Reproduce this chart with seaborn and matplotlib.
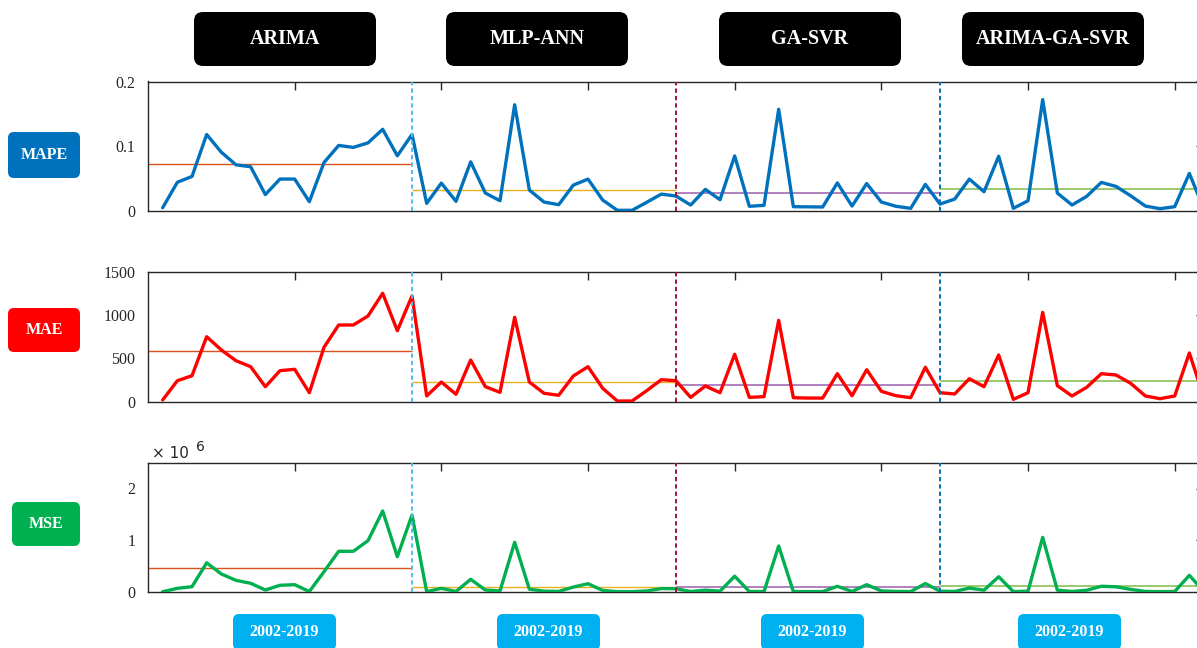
import numpy as np
import pandas as pd
import matplotlib
matplotlib.use("Agg")
import matplotlib.pyplot as plt
from matplotlib.patches import FancyBboxPatch
import seaborn as sns

# Yearly error metrics, 2002-2019, for four models laid end to end
models = ["ARIMA", "MLP-ANN", "GA-SVR", "ARIMA-GA-SVR"]
period_label = "2002-2019"
years_per_model = 18

mape_arima = [0.0046, 0.044, 0.053, 0.118, 0.0905, 0.071, 0.068, 0.025, 0.049,
              0.049, 0.014, 0.0746, 0.101, 0.098, 0.105, 0.126, 0.085, 0.118]
mape_mlp = [0.0114, 0.0427, 0.0145, 0.0756, 0.0273, 0.0154, 0.164, 0.032, 0.0134,
            0.0093, 0.0396, 0.0489, 0.0165, 0.0006, 0.0006, 0.013, 0.0257, 0.0227]
mape_gasvr = [0.0088, 0.033, 0.017, 0.0848, 0.0068, 0.0083, 0.157, 0.0062, 0.006,
              0.0057, 0.043, 0.0072, 0.042, 0.0134, 0.0068, 0.0037, 0.0407, 0.0103]
mape_hybrid = [0.018, 0.0489, 0.0293, 0.0843, 0.0037, 0.0154, 0.172, 0.0273, 0.0088,
               0.0222, 0.0438, 0.0376, 0.0231, 0.0072, 0.0031, 0.0062, 0.0577, 0.002]

mae_arima = [20, 242, 300, 750, 597, 473, 404, 173, 358,
             374, 104, 628, 885, 885, 989, 1251, 819, 1220]
mae_mlp = [66, 227, 85, 481, 173, 108, 974, 227, 97,
           74, 297, 404, 155, 8, 8, 127, 254, 242]
mae_gasvr = [50, 181, 104, 547, 50, 58, 939, 46, 42,
             42, 323, 69, 369, 120, 69, 46, 397, 104]
mae_hybrid = [89, 265, 173, 539, 27, 104, 1031, 185, 66,
              166, 323, 308, 212, 66, 35, 66, 562, 40]

mse_arima = [0.0, 0.065, 0.097, 0.56, 0.343, 0.22, 0.163, 0.033, 0.124,
             0.136, 0.003, 0.388, 0.783, 0.783, 0.99, 1.564, 0.678, 1.486]
mse_mlp = [0.002, 0.065, 0.005, 0.24, 0.033, 0.015, 0.957, 0.05, 0.01,
           0.005, 0.09, 0.155, 0.025, 0.0, 0.0, 0.015, 0.06, 0.058]
mse_gasvr = [0.003, 0.03, 0.01, 0.3, 0.003, 0.003, 0.886, 0.002, 0.002,
             0.002, 0.105, 0.005, 0.136, 0.015, 0.005, 0.002, 0.158, 0.01]
mse_hybrid = [0.005, 0.07, 0.03, 0.29, 0.001, 0.01, 1.053, 0.03, 0.004,
              0.028, 0.105, 0.095, 0.045, 0.005, 0.001, 0.004, 0.317, 0.002]

metric_names = ["MAPE", "MAE", "MSE"]
metric_series = [
    [mape_arima, mape_mlp, mape_gasvr, mape_hybrid],
    [mae_arima, mae_mlp, mae_gasvr, mae_hybrid],
    [[v * 1e6 for v in s] for s in (mse_arima, mse_mlp, mse_gasvr, mse_hybrid)],
]
metric_yticks = [[0, 0.1, 0.2], [0, 500, 1000, 1500], [0, 1e6, 2e6]]
metric_yticklabels = [["0", "0.1", "0.2"], ["0", "500", "1000", "1500"], ["0", "1", "2"]]
metric_ylims = [(0, 0.2), (0, 1500), (0, 2.5e6)]

# styling
line_colors = ["#0072BD", "#FF0000", "#00B050"]
mean_colors = ["#D95319", "#EDB120", "#B07FC0", "#9CC86A"]
sep_colors = ["#4DBEEE", "#A2142F", "#0072BD"]
spine_color = "#262626"

sns.set_theme(style="white")
plt.rcParams["font.family"] = ["Liberation Serif", "DejaVu Serif"]

W, H = 1197, 648
fig = plt.figure(figsize=(W / 100, H / 100), dpi=100)
fig.patch.set_facecolor("white")

# panel boxes in pixel coordinates (top, bottom); width spans 72 years
px_left = 148
px_per_year = 14.667
n_total = years_per_model * len(models)
panel_px = [(81.5, 210.7), (271.7, 401.7), (462.7, 591.7)]

x_years = np.arange(1, n_total + 1)

for k, name in enumerate(metric_names):
    top, bottom = panel_px[k]
    ax = fig.add_axes([px_left / W, (H - bottom) / H,
                       n_total * px_per_year / W, (bottom - top) / H])
    values = np.concatenate([np.asarray(s, dtype=float) for s in metric_series[k]])
    df = pd.DataFrame({"x": x_years, "value": values})

    # per-model mean level
    for m in range(len(models)):
        seg = np.asarray(metric_series[k][m], dtype=float)
        x0 = m * years_per_model
        x1 = (m + 1) * years_per_model
        ax.plot([x0, x1], [seg.mean(), seg.mean()], color=mean_colors[m],
                lw=1.0 if m < 2 else 1.4, zorder=2, solid_capstyle="butt")

    sns.lineplot(data=df, x="x", y="value", ax=ax, color=line_colors[k],
                 linewidth=2.4, zorder=3)

    # model boundaries
    for j, c in enumerate(sep_colors):
        ax.axvline((j + 1) * years_per_model, color=c, lw=1.4,
                   linestyle=(0, (2.2, 1.6)), zorder=4)

    ax.set_xlim(0, n_total)
    ax.set_ylim(*metric_ylims[k])
    ax.set_xticks(np.arange(10, n_total + 1, 10))
    ax.set_xticklabels([])
    ax.set_yticks(metric_yticks[k])
    ax.set_yticklabels(metric_yticklabels[k], fontsize=11.5, color=spine_color)
    ax.set_xlabel("")
    ax.set_ylabel("")
    ax.tick_params(axis="both", direction="in", length=6, width=1,
                   color=spine_color, top=True, right=True, pad=9)
    for sp in ax.spines.values():
        sp.set_color(spine_color)
        sp.set_linewidth(1.0)
        sp.set_visible(True)
    ax.set_facecolor("white")

# overlay for the label badges, one data unit per pixel
ov = fig.add_axes([0, 0, 1, 1])
ov.set_xlim(0, W)
ov.set_ylim(H, 0)
ov.axis("off")
ov.patch.set_visible(False)


def badge(x0, y0, x1, y1, color, text, size, radius=7):
    ov.add_patch(FancyBboxPatch((x0, y0), x1 - x0, y1 - y0,
                                boxstyle=f"round,pad=0,rounding_size={radius}",
                                facecolor=color, edgecolor="none"))
    ov.text((x0 + x1) / 2, (y0 + y1) / 2, text, color="white", fontsize=size,
            fontweight="bold", ha="center", va="center",
            family=["Liberation Serif", "DejaVu Serif"])


top_boxes = [(194, 376), (446, 628), (719, 901), (962, 1144)]
for (a, b), name in zip(top_boxes, models):
    badge(a, 12, b, 66, "black", name, 14.5, radius=9)

side_boxes = [(8, 132, 80, 178), (8, 308, 80, 352), (12, 502, 80, 546)]
for (a, b, c, d), name, col in zip(side_boxes, metric_names, line_colors):
    badge(a, b, c, d, col, name, 11.5, radius=6)

bottom_boxes = [(233, 336), (497, 600), (761, 864), (1018, 1121)]
for a, b in bottom_boxes:
    badge(a, 614, b, 650, "#00B0F0", period_label, 11.5, radius=6)

# exponent marker for the MSE axis
ov.text(152, 454, "× 10", fontsize=11, color=spine_color, ha="left", va="center",
        family=["DejaVu Sans"])
ov.text(196, 447, "6", fontsize=10, color=spine_color, ha="left", va="center",
        family=["DejaVu Sans"])

fig.savefig("out.png", dpi=100)
